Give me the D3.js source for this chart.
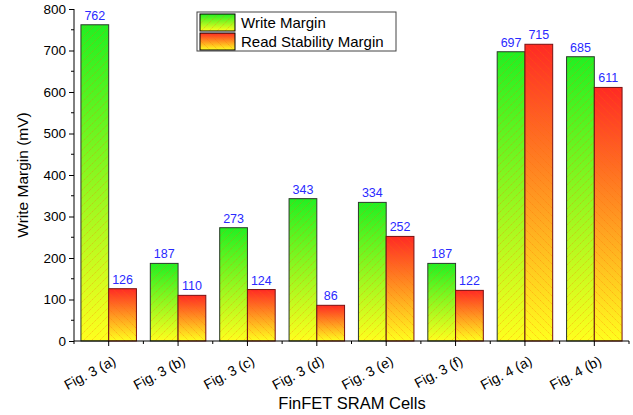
<!DOCTYPE html>
<html><head><meta charset="utf-8">
<script src="https://cdn.jsdelivr.net/npm/d3@7"></script>
<style>body{margin:0;background:#fff}svg{display:block}text{font-family:"Liberation Sans",Arial,sans-serif}</style>
</head><body>
<script>
const categories = ["Fig. 3 (a)","Fig. 3 (b)","Fig. 3 (c)","Fig. 3 (d)","Fig. 3 (e)","Fig. 3 (f)","Fig. 4 (a)","Fig. 4 (b)"];
const writeMargin = [762,187,273,343,334,187,697,685];
const readMargin = [126,110,124,86,252,122,715,611];
const seriesNames = ["Write Margin","Read Stability Margin"];
const yTicks = [0,100,200,300,400,500,600,700,800];

const W=633,H=415;
const svg=d3.select("body").append("svg").attr("width",W).attr("height",H);
const defs=svg.append("defs");
function grad(id,top,bottom){
  const g=defs.append("linearGradient").attr("id",id).attr("x1",0).attr("y1",0).attr("x2",0).attr("y2",1);
  g.append("stop").attr("offset","0%").attr("stop-color",top);
  g.append("stop").attr("offset","100%").attr("stop-color",bottom);
}
grad("gW","#22f022","#ffff1e");
grad("gR","#ff2a24","#ffff1e");
function hatch(id,dir){
  const s=8;
  const p=defs.append("pattern").attr("id",id).attr("patternUnits","userSpaceOnUse").attr("width",s).attr("height",s);
  const d = dir>0 ? `M-1,${s+1} L${s+1},-1 M-1,1 L1,-1 M${s-1},${s+1} L${s+1},${s-1}`
                  : `M-1,-1 L${s+1},${s+1} M-1,${s-1} L1,${s+1} M${s-1},-1 L${s+1},1`;
  p.append("path").attr("d",d).attr("stroke","rgba(255,100,0,0.55)").attr("stroke-width",0.6).attr("stroke-dasharray","1.5,0.8").attr("fill","none");
}
hatch("hW",1);hatch("hR",-1);

const x=d3.scaleBand().domain(categories).range([74,629]).paddingInner(0).paddingOuter(0);
const x1=d3.scaleBand().domain([0,1]).range([0,x.bandwidth()]).paddingOuter(0.25).paddingInner(0);
const y=d3.scaleLinear().domain([0,800]).range([341,9]);

const series=[writeMargin,readMargin];
const fills=["url(#gW)","url(#gR)"],hatches=["url(#hW)","url(#hR)"],strokes=["#2b3a2b","#7a1010"];
series.forEach((vals,s)=>{
  const g=svg.append("g");
  categories.forEach((c,i)=>{
    const bx=x(c)+x1(s),bw=x1.bandwidth(),by=y(vals[i]),bh=y(0)-y(vals[i]);
    g.append("rect").attr("x",bx).attr("y",by).attr("width",bw).attr("height",bh).attr("fill",fills[s]);
    g.append("rect").attr("x",bx).attr("y",by).attr("width",bw).attr("height",bh).attr("fill",hatches[s]).attr("stroke",strokes[s]).attr("stroke-width",1);
    svg.append("text").attr("x",bx+bw/2).attr("y",by-5).attr("text-anchor","middle").attr("font-size",12.5).attr("fill","#2a2aff").text(vals[i]);
  });
});

// Y axis
const ya=svg.append("g").attr("transform","translate(74,0)")
  .call(d3.axisLeft(y).tickValues(yTicks).tickSize(5).tickPadding(3));
ya.selectAll("text").attr("font-size",13.5).attr("fill","#000").attr("font-family","Liberation Sans, Arial");
ya.select(".domain").attr("stroke","#000").attr("d","M0,9V341");
ya.selectAll(".tick line").attr("stroke","#000");
const minorY=d3.range(50,800,100);
svg.append("g").selectAll("line").data(minorY).join("line")
  .attr("x1",71).attr("x2",74).attr("y1",d=>y(d)).attr("y2",d=>y(d)).attr("stroke","#000");

// X axis
const xa=svg.append("g").attr("transform","translate(0,341)")
  .call(d3.axisBottom(x).tickSize(5).tickPadding(4));
xa.select(".domain").attr("stroke","#000").attr("d","M74,0H629");
xa.selectAll(".tick line").attr("stroke","#000");
xa.selectAll("text").attr("font-size",14).attr("fill","#000").attr("font-family","Liberation Sans, Arial")
  .attr("text-anchor","end").attr("dy",null).attr("transform","translate(4,15) rotate(-28)");
const bounds=categories.map(c=>x(c)).concat([x.range()[1]]);
svg.append("g").selectAll("line").data(bounds).join("line")
  .attr("x1",d=>d).attr("x2",d=>d).attr("y1",341).attr("y2",344).attr("stroke","#000");

svg.append("text").attr("transform","translate(28,175) rotate(-90)").attr("text-anchor","middle").attr("font-size",15.5).text("Write Margin (mV)");
svg.append("text").attr("x",352).attr("y",409).attr("text-anchor","middle").attr("font-size",16.5).text("FinFET SRAM Cells");

// Legend
const lg=svg.append("g");
lg.append("rect").attr("x",197).attr("y",12).attr("width",199).attr("height",39).attr("fill","#fff").attr("stroke","#444");
seriesNames.forEach((n,i)=>{
  const yy=14+i*19;
  lg.append("rect").attr("x",200).attr("y",yy).attr("width",35).attr("height",17).attr("fill",fills[i]);
  lg.append("rect").attr("x",200).attr("y",yy).attr("width",35).attr("height",17).attr("fill",hatches[i]).attr("stroke","#000").attr("stroke-width",1);
  lg.append("text").attr("x",241).attr("y",yy+14).attr("font-size",15).text(n);
});
</script>
</body></html>
